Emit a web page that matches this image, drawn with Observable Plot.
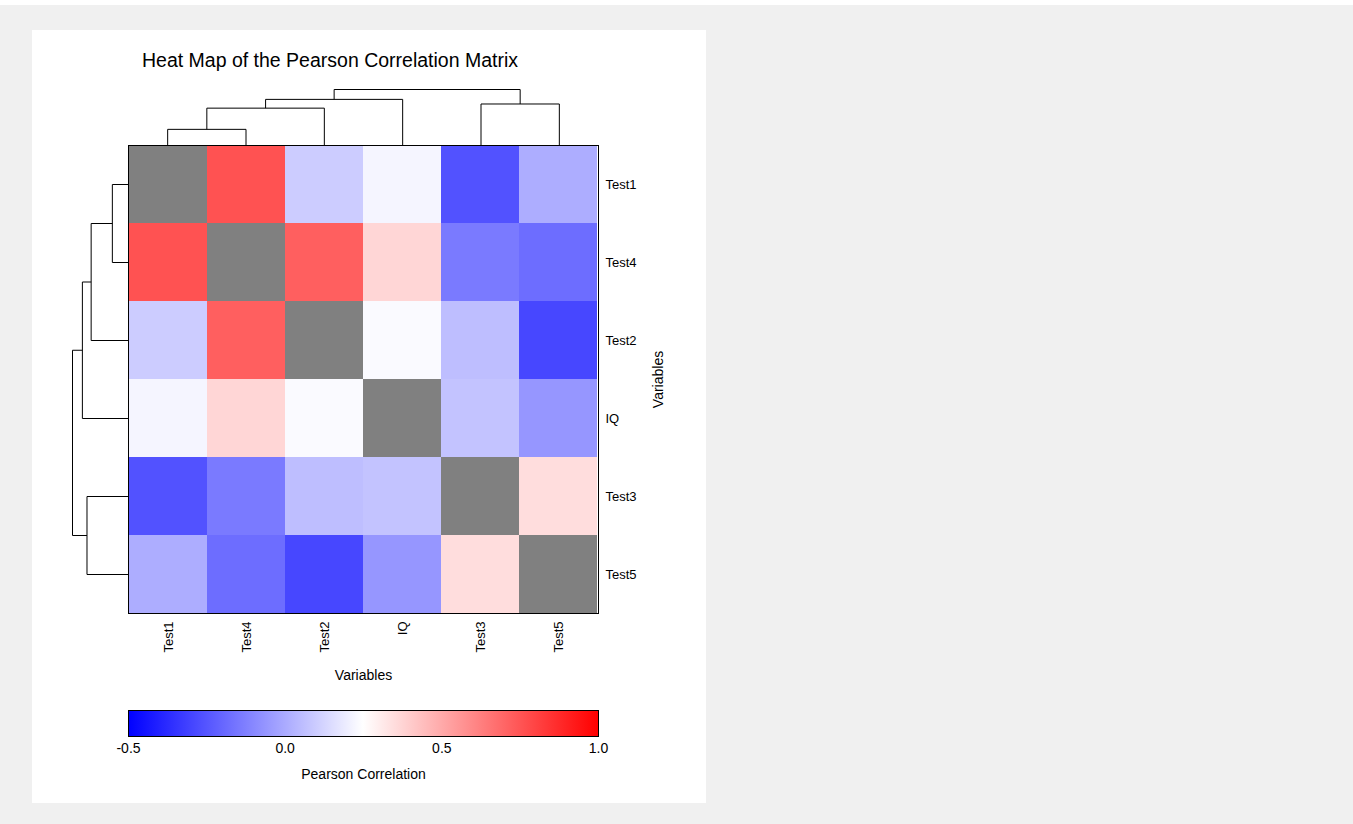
<!DOCTYPE html>
<html>
<head>
<meta charset="utf-8">
<script src="https://cdn.jsdelivr.net/npm/d3@7"></script>
<script src="https://cdn.jsdelivr.net/npm/@observablehq/plot@0.6"></script>
<style>
  html, body { margin: 0; padding: 0; background: #ffffff; }
  #page { position: absolute; left: 0; top: 5px; width: 1353px; height: 819px; background: #f0f0f0; }
  #panel { position: absolute; left: 32px; top: 25px; width: 674px; height: 773px; background: #ffffff; }
  #panel > svg { position: absolute; }
  #title { position: absolute; left: 0; top: 19px; width: 596px; text-align: center;
           font: 19.5px "Liberation Sans", Arial, sans-serif; line-height: 22px; color: #000; }
</style>
</head>
<body>
<div id="page">
  <div id="panel">
    <div id="title">Heat Map of the Pearson Correlation Matrix</div>
  </div>
</div>
<script>
// ---------------- data ----------------
const variables = ["Test1", "Test4", "Test2", "IQ", "Test3", "Test5"];
const corrTest1 = [1.00, 0.76, 0.10, 0.22, -0.26, 0.01];
const corrTest4 = [0.76, 1.00, 0.72, 0.37, -0.14, -0.18];
const corrTest2 = [0.10, 0.72, 1.00, 0.235, 0.06, -0.29];
const corrIQ    = [0.22, 0.37, 0.235, 1.00, 0.075, -0.06];
const corrTest3 = [-0.26, -0.14, 0.06, 0.075, 1.00, 0.35];
const corrTest5 = [0.01, -0.18, -0.29, -0.06, 0.35, 1.00];
const corrRows = [corrTest1, corrTest4, corrTest2, corrIQ, corrTest3, corrTest5];

// hierarchical clustering merges (dendrogram)
const mergeName   = ["C1", "C2", "C3", "C4", "C5"];
const mergeLeft   = ["Test1", "C1", "C2", "Test3", "C3"];
const mergeRight  = ["Test4", "Test2", "IQ", "Test5", "C4"];
const mergeHeight = [0.245, 0.567, 0.70, 0.63, 0.85];

// colour scale
const colorDomain = [-0.5, 0.25, 1.0];
const colorRange  = ["#0000ff", "#ffffff", "#ff0000"];
const colorTicks  = [-0.5, 0.0, 0.5, 1.0];

(function () {
// ---------------- derived tables ----------------
const cells = [];
corrRows.forEach((row, i) => row.forEach((v, j) => {
  cells.push({row: variables[i], col: variables[j], value: v, diag: i === j});
}));
const offDiag = cells.filter(d => !d.diag);
const diag = cells.filter(d => d.diag);

const pos = new Map(variables.map((v, i) => [v, {p: i + 0.5, h: 0}]));
const segs = [];
mergeName.forEach((name, k) => {
  const a = pos.get(mergeLeft[k]), b = pos.get(mergeRight[k]), h = mergeHeight[k];
  segs.push({p1: a.p, h1: a.h, p2: a.p, h2: h});
  segs.push({p1: b.p, h1: b.h, p2: b.p, h2: h});
  segs.push({p1: a.p, h1: h, p2: b.p, h2: h});
  pos.set(name, {p: (a.p + b.p) / 2, h});
});
const maxH = d3.max(mergeHeight);

const FONT = "Liberation Sans, Arial, sans-serif";
const panel = document.getElementById("panel");

// ---------------- heatmap ----------------
const heat = Plot.plot({
  width: 674, height: 680,
  marginLeft: 96, marginRight: 108, marginTop: 115, marginBottom: 97,
  style: {background: "transparent", fontFamily: FONT, fontSize: "13px", color: "#000"},
  x: {domain: variables, padding: 0, axis: "bottom", tickRotate: -90, tickSize: 0, tickPadding: 8,
      label: "Variables", labelAnchor: "center", labelOffset: 66},
  y: {domain: variables, padding: 0, axis: "right", tickSize: 0, tickPadding: 7,
      label: "Variables", labelAnchor: "center", labelOffset: 64},
  color: {type: "linear", domain: colorDomain, range: colorRange, interpolate: "rgb"},
  marks: [
    Plot.cell(offDiag, {x: "col", y: "row", fill: "value", inset: 0}),
    Plot.cell(diag, {x: "col", y: "row", fill: "#808080", inset: 0}),
    Plot.frame({stroke: "#000"})
  ]
});
heat.style.left = "0px"; heat.style.top = "0px";
d3.select(heat).selectAll('g[aria-label="x-axis label"] text, g[aria-label="y-axis label"] text')
  .style("font-size", "14px");
panel.appendChild(heat);

// ---------------- top dendrogram ----------------
const topDendro = Plot.plot({
  width: 674, height: 115,
  marginLeft: 96, marginRight: 108, marginTop: 59, marginBottom: 0,
  style: {background: "transparent", overflow: "visible"},
  x: {domain: [0, variables.length], axis: null},
  y: {domain: [0, maxH], axis: null},
  marks: [
    Plot.link(segs, {x1: "p1", y1: "h1", x2: "p2", y2: "h2", stroke: "#000", strokeWidth: 1})
  ]
});
topDendro.style.left = "0px"; topDendro.style.top = "0px";
panel.appendChild(topDendro);

// ---------------- left dendrogram ----------------
const leftDendro = Plot.plot({
  width: 96, height: 680,
  marginLeft: 40, marginRight: 0, marginTop: 115, marginBottom: 97,
  style: {background: "transparent", overflow: "visible"},
  x: {domain: [0, maxH], reverse: true, axis: null},
  y: {domain: [0, variables.length], reverse: true, axis: null},
  marks: [
    Plot.link(segs, {x1: "h1", y1: "p1", x2: "h2", y2: "p2", stroke: "#000", strokeWidth: 1})
  ]
});
leftDendro.style.left = "0px"; leftDendro.style.top = "0px";
panel.appendChild(leftDendro);

// ---------------- colour legend ----------------
const legend = Plot.plot({
  width: 674, height: 90,
  marginLeft: 96, marginRight: 108, marginTop: 10, marginBottom: 54,
  style: {background: "transparent", fontFamily: FONT, fontSize: "14px", color: "#000"},
  x: {domain: [colorDomain[0], colorDomain[colorDomain.length - 1]], ticks: colorTicks,
      tickFormat: d => d.toFixed(1),
      tickSize: 0, tickPadding: 7, label: "Pearson Correlation", labelArrow: "none",
      labelAnchor: "center", labelOffset: 42},
  y: {axis: null},
  marks: [
    Plot.rect([colorDomain], {x1: d => d[0], x2: d => d[d.length - 1], fill: "url(#pearsonRamp)"}),
    Plot.frame({stroke: "#000"})
  ]
});
d3.select(legend).selectAll('g[aria-label="x-axis label"] text, g[aria-label="x-axis label"] tspan')
  .each(function () {
    if (this.childElementCount === 0) this.textContent = this.textContent.replace(/\s*[→←]\s*/g, "");
  });
const ext = d3.extent(colorDomain);
const grad = d3.select(legend).insert("defs", ":first-child")
  .append("linearGradient").attr("id", "pearsonRamp")
  .attr("x1", "0%").attr("x2", "100%").attr("y1", "0%").attr("y2", "0%");
colorDomain.forEach((v, i) => {
  grad.append("stop")
    .attr("offset", ((v - ext[0]) / (ext[1] - ext[0]) * 100) + "%")
    .attr("stop-color", colorRange[i]);
});
legend.style.left = "0px"; legend.style.top = "670px";
panel.appendChild(legend);
})();
</script>
</body>
</html>
